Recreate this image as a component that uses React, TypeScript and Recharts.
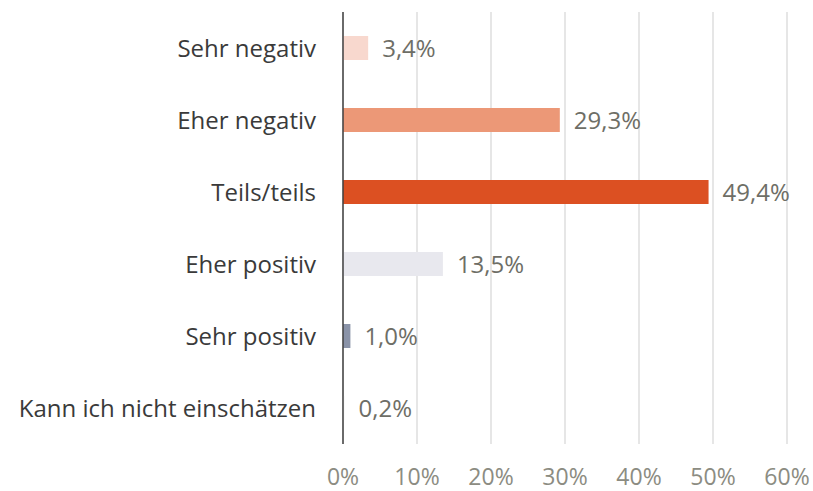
import { BarChart, Bar, Cell, XAxis, YAxis, CartesianGrid, LabelList } from "recharts";

const categories = [
  "Sehr negativ",
  "Eher negativ",
  "Teils/teils",
  "Eher positiv",
  "Sehr positiv",
  "Kann ich nicht einschätzen",
];
const values = [3.4, 29.3, 49.4, 13.5, 1.0, 0.2];
const barColors = ["#F8D8CE", "#EC9877", "#DC5022", "#E8E8EE", "#8A93A8", "#F4F4F4"];
const xTicks = [0, 10, 20, 30, 40, 50, 60];

const data = categories.map((name, i) => ({ name, value: values[i] }));

const font = "'Open Sans', sans-serif";
const fmt = (v: number) => v.toFixed(1).replace(".", ",") + "%";

export default function App() {
  return (
    <div style={{ position: "absolute", left: 0, top: 0, background: "#fff" }}>
      <BarChart
        width={813}
        height={491}
        data={data}
        layout="vertical"
        margin={{ top: 12, right: 26, left: 0, bottom: 0 }}
      >
        <CartesianGrid horizontal={false} stroke="#D9D9D9" strokeWidth={1.3} />
        <XAxis
          type="number"
          domain={[0, 60]}
          ticks={xTicks}
          axisLine={false}
          tickLine={false}
          tickSize={0}
          tickMargin={25}
          height={47}
          tickFormatter={(v) => `${v}%`}
          tick={{ fill: "#8C8C82", fontFamily: font, fontSize: 23 }}
        />
        <YAxis
          type="category"
          dataKey="name"
          width={343}
          axisLine={{ stroke: "#404040", strokeWidth: 1.5 }}
          tickLine={false}
          tickSize={0}
          tickMargin={27}
          tick={{ fill: "#3A3A3A", fontFamily: font, fontSize: 24 }}
        />
        <Bar dataKey="value" barSize={24} isAnimationActive={false}>
          {data.map((_, i) => (
            <Cell key={i} fill={barColors[i]} />
          ))}
          <LabelList
            dataKey="value"
            position="right"
            offset={14}
            formatter={(v: number) => fmt(v)}
            style={{ fill: "#6E6E66", fontFamily: font, fontSize: 24 }}
          />
        </Bar>
      </BarChart>
    </div>
  );
}
